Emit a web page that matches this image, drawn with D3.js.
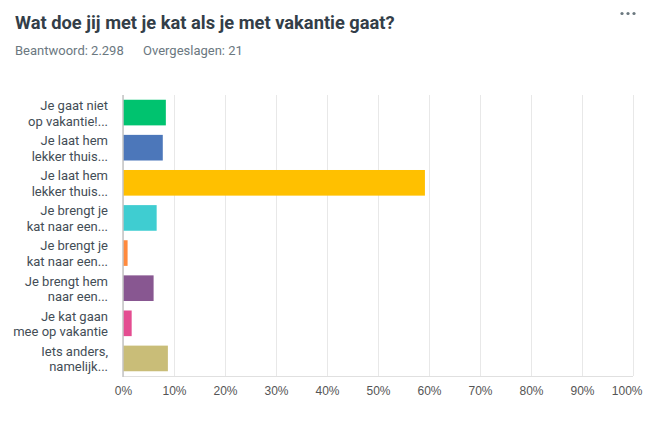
<!DOCTYPE html>
<html>
<head>
<meta charset="utf-8">
<script src="https://d3js.org/d3.v7.min.js"></script>
<style>
  body {
    margin: 0;
    background: #fff;
    font-family: Roboto, "Liberation Sans", sans-serif;
  }
  .title { font-size: 18.3px; font-weight: 700; fill: #333e48; }
  .meta { font-size: 13px; fill: #6b787f; }
  .label { font-size: 13px; fill: #434d56; }
  .x.axis text { font-size: 12px; fill: #555; }
  .x.axis .domain { display: none; }
  .x.axis line { stroke: #e8e8e8; }
</style>
</head>
<body>
<script>
  // answer options (truncated like the original) and their shares in %
  var labels = [
    ["Je gaat niet", "op vakantie!..."],
    ["Je laat hem", "lekker thuis..."],
    ["Je laat hem", "lekker thuis..."],
    ["Je brengt je", "kat naar een..."],
    ["Je brengt je", "kat naar een..."],
    ["Je brengt hem", "naar een..."],
    ["Je kat gaan", "mee op vakantie"],
    ["Iets anders,", "namelijk..."]
  ];
  var values = [8.4, 7.8, 59.2, 6.6, 0.9, 6.0, 1.7, 8.8];
  var colors = ["#00c36f", "#4c77ba", "#ffc000", "#3fcdd1", "#ff8a3d", "#885791", "#e44d91", "#c9bd78"];
  var ticks = [0, 10, 20, 30, 40, 50, 60, 70, 80, 90, 100];

  var W = 647, H = 426;
  var margin = {top: 95, right: 14, bottom: 50, left: 123};
  var width = W - margin.left - margin.right,
      height = H - margin.top - margin.bottom;

  var svg = d3.select("body").append("svg")
      .attr("width", W)
      .attr("height", H);

  svg.append("text")
      .attr("class", "title")
      .attr("x", 15)
      .attr("y", 29)
      .text("Wat doe jij met je kat als je met vakantie gaat?");

  svg.append("text")
      .attr("class", "meta")
      .attr("x", 15)
      .attr("y", 55)
      .text("Beantwoord: 2.298");

  svg.append("text")
      .attr("class", "meta")
      .attr("x", 143)
      .attr("y", 55)
      .text("Overgeslagen: 21");

  // the "more" dots top right
  svg.selectAll(".dot")
      .data([0, 1, 2])
    .enter().append("circle")
      .attr("cx", d => 622 + d * 6)
      .attr("cy", 13.5)
      .attr("r", 1.6)
      .attr("fill", "#6b787f");

  var g = svg.append("g")
      .attr("transform", `translate(${margin.left},${margin.top})`);

  var x = d3.scaleLinear()
      .domain([0, 100])
      .range([0, width]);

  var y = d3.scaleBand()
      .domain(d3.range(values.length))
      .range([0, height])
      .paddingInner(0.27)
      .paddingOuter(0.135);

  var xAxis = d3.axisBottom(x)
      .tickValues(ticks)
      .tickFormat(d => d + "%")
      .tickSize(-height)
      .tickPadding(10);

  g.append("g")
      .attr("class", "x axis")
      .attr("transform", `translate(0,${height})`)
      .call(xAxis);

  // keep the last tick label inside the page
  g.selectAll(".x.axis .tick:last-of-type text")
      .attr("text-anchor", "end")
      .attr("dx", 9);

  g.append("line")
      .attr("x1", 0).attr("x2", width)
      .attr("y1", height + 0.5).attr("y2", height + 0.5)
      .attr("stroke", "#e0e0e0");

  g.selectAll(".bar")
      .data(values)
    .enter().append("rect")
      .attr("class", "bar")
      .attr("x", 0)
      .attr("y", (d, i) => y(i))
      .attr("width", d => x(d))
      .attr("height", y.bandwidth())
      .attr("fill", (d, i) => colors[i]);

  // left axis line
  g.append("line")
      .attr("x1", 0).attr("x2", 0)
      .attr("y1", 0).attr("y2", height + 1)
      .attr("stroke", "#c4c4c4")
      .attr("stroke-width", 1.5);

  var lab = g.selectAll(".label")
      .data(labels)
    .enter().append("text")
      .attr("class", "label")
      .attr("text-anchor", "end")
      .attr("x", -15)
      .attr("y", (d, i) => y(i) + y.bandwidth() / 2);

  lab.selectAll("tspan")
      .data(d => d)
    .enter().append("tspan")
      .attr("x", -15)
      .attr("dy", (d, j) => j == 0 ? "-0.2em" : "1.2em")
      .text(d => d);
</script>
</body>
</html>
